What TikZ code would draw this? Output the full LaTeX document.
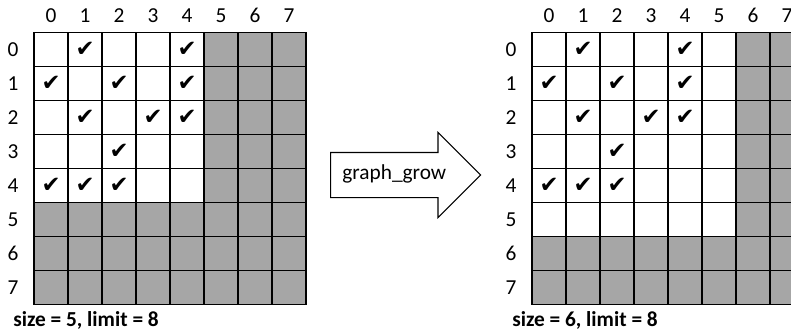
\documentclass[tikz,border=0pt]{standalone}
\usepackage{fontspec}
\setmainfont{Carlito}
\newfontfamily\symfont{DejaVu Sans}
\usetikzlibrary{shapes.arrows, positioning}
\definecolor{shade}{RGB}{166,166,166}
\tikzstyle{cell} = [draw, rectangle, minimum size=25.5pt, inner sep=0pt, line width=0.8pt]
\tikzstyle{tick} = [inner sep=0pt, font=\symfont\bfseries\fontsize{17}{17}\selectfont]
\tikzstyle{idx} = [inner sep=0pt, font=\fontsize{16}{16}\selectfont]
\tikzstyle{caption} = [inner sep=0pt, anchor=west, font=\bfseries\fontsize{16}{16}\selectfont]
\newcommand{\ticks}{0/1,0/4,1/0,1/2,1/4,2/1,2/3,2/4,3/2,4/0,4/1,4/2}
% #1 prefix, #2 left edge, #3 size
\newcommand{\board}[3]{%
  \foreach \r in {0,...,7}
    \foreach \c in {0,...,7} {
      \pgfmathtruncatemacro\out{or(\r>#3-1,\c>#3-1)}
      \ifnum\out=1 \def\cellfill{shade}\else\def\cellfill{white}\fi
      \node[cell, fill=\cellfill] (#1-\r-\c) at (#2+17+34*\c, 49.5+34*\r) {};
    }
  \foreach \r/\c in \ticks
    \node[tick] (#1t-\r-\c) at (#1-\r-\c) {✔};
  \foreach \c in {0,...,7}
    \node[idx, above=6.75pt of #1-0-\c] (#1c\c) {\c};
  \foreach \r in {0,...,7}
    \node[idx, left=11pt of #1-\r-0] (#1r\r) {\r};
}

\begin{document}
\begin{tikzpicture}[x=0.75pt, y=-0.75pt]
  \useasboundingbox (0,0) rectangle (791,335);
  \clip (0,0) rectangle (791,335);
  \board{L}{34}{5}
  \board{R}{532}{6}
  \node[caption] (lcap) at (13,320) {size = 5, limit = 8};
  \node[caption] (rcap) at (512,320) {size = 6, limit = 8};
  % the step between the two boards
  \node[single arrow, draw, line width=0.8pt, fill=white, anchor=tail,
        minimum height=112.5pt, single arrow head extend=15pt,
        single arrow tip angle=90, inner xsep=4pt, inner ysep=9pt,
        text height=11pt, text depth=4pt, font=\fontsize{16}{16}\selectfont]
        (grow) at (330,175) {graph\_grow};
\end{tikzpicture}
\end{document}
